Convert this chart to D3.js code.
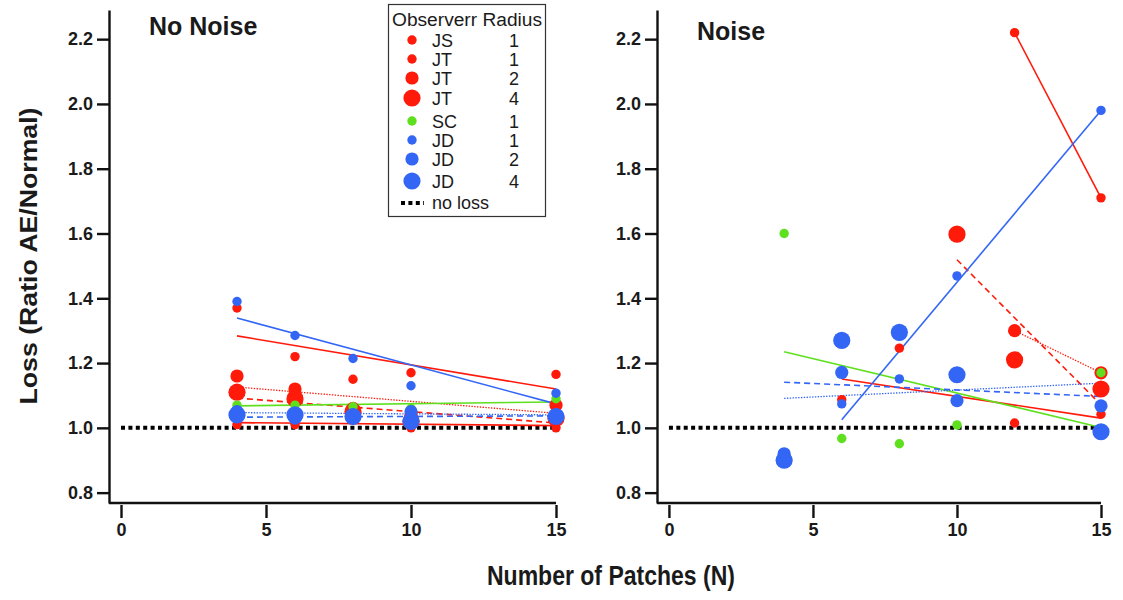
<!DOCTYPE html>
<html>
<head>
<meta charset="utf-8">
<script src="https://cdn.jsdelivr.net/npm/d3@7"></script>
<style>
  body { margin: 0; background: #fff; }
  text { font-family: "Liberation Sans", Arial, sans-serif; fill: #1a1a1a; }
</style>
</head>
<body>
<div id="chart"></div>
<script>
// series, in legend order
const observers = ["JS", "JT", "JT", "JT", "SC", "JD", "JD", "JD"];
const radii = [1, 1, 2, 4, 1, 1, 2, 4];

// No Noise panel
const xNoNoise = [4, 6, 8, 10, 15];
const yNoNoise = [
  [1.01, 1.01, 1.03, 1.00, 1.00],   // JS 1
  [1.37, 1.22, 1.15, 1.17, 1.165],  // JT 1
  [1.16, 1.12, 1.06, 1.04, 1.07],   // JT 2
  [1.11, 1.09, 1.05, 1.02, 1.03],   // JT 4
  [1.07, 1.07, 1.065, 1.06, 1.09],  // SC 1
  [1.39, 1.285, 1.214, 1.13, 1.107],// JD 1
  [1.05, 1.03, 1.04, 1.05, 1.04],   // JD 2
  [1.04, 1.04, 1.035, 1.02, 1.035]  // JD 4
];
// fitted line, value at first and last N of each series
const fitNoNoise = [
  [1.016, 1.007], [1.284, 1.12], [1.126, 1.045], [1.092, 1.015],
  [1.068, 1.08], [1.339, 1.074], [1.047, 1.04], [1.033, 1.037]
];

// Noise panel
const xNoise = [4, 6, 8, 10, 12, 15];
const yNoise = [
  [null, null, null, null, 2.22, 1.71],     // JS 1
  [null, 1.087, 1.246, null, 1.015, 1.042], // JT 1
  [null, null, null, null, 1.30, 1.17],     // JT 2
  [null, null, null, 1.598, 1.21, 1.12],    // JT 4
  [1.60, 0.967, 0.951, 1.009, null, 1.17],  // SC 1
  [null, 1.074, 1.151, 1.469, null, 1.98],  // JD 1
  [0.92, 1.171, 1.29, 1.084, null, 1.068],  // JD 2
  [0.90, 1.27, 1.295, 1.164, null, 0.988]   // JD 4
];
const fitNoise = [
  [2.22, 1.71], [1.151, 1.03], [1.30, 1.17], [1.519, 1.071],
  [1.235, 1.001], [1.025, 1.98], [1.091, 1.138], [1.141, 1.097]
];

const yTicks = [0.8, 1.0, 1.2, 1.4, 1.6, 1.8, 2.0, 2.2];
const xTicks = [0, 5, 10, 15];
const noLoss = 1.0;

const width = 1123, height = 600;

let svg = d3.select("#chart")
  .append("svg")
  .attr("width", width)
  .attr("height", height);

let y = d3.scaleLinear().domain([0.768, 2.29]).range([503, 10]);

let color = d3.scaleOrdinal()
  .domain(["JS", "JT", "SC", "JD"])
  .range(["#ff1a0a", "#ff1a0a", "#5fe01f", "#3366f5"]);
let dotR = d3.scaleOrdinal().domain([1, 2, 4]).range([4.7, 6.6, 8.6]);
let dash = d3.scaleOrdinal().domain([1, 2, 4]).range([null, "1.4,1.4", "6,4"]);
let lineW = d3.scaleOrdinal().domain([1, 2, 4]).range([1.6, 1.3, 1.6]);

const panels = [
  { title: "No Noise", tx: 149, ty: 35, range: [109, 556], xs: xNoNoise, ys: yNoNoise, fits: fitNoNoise },
  { title: "Noise", tx: 697, ty: 40, range: [657, 1101], xs: xNoise, ys: yNoise, fits: fitNoise }
];

panels.forEach(p => {
  let x = d3.scaleLinear().domain([-0.414, 15]).range(p.range);
  let g = svg.append("g");

  // y axis
  g.append("g")
    .attr("transform", `translate(${p.range[0]},0)`)
    .call(d3.axisLeft(y).tickValues(yTicks).tickFormat(d3.format(".1f")).tickSize(12).tickPadding(4).tickSizeOuter(0))
    .call(a => a.selectAll("path,line").attr("stroke", "#111").attr("stroke-width", 2.4))
    .call(a => a.selectAll("text").style("font-size", "18px").style("font-weight", "bold").attr("fill", "#1a1a1a"));

  // x axis, ticks hang just below the axis line
  g.append("line")
    .attr("x1", p.range[0]).attr("x2", x(15))
    .attr("y1", y.range()[0]).attr("y2", y.range()[0])
    .attr("stroke", "#111").attr("stroke-width", 2.4);
  g.append("g")
    .attr("transform", `translate(0,${y.range()[0] + 2})`)
    .call(d3.axisBottom(x).tickValues(xTicks).tickSize(13).tickPadding(5))
    .call(a => a.select(".domain").remove())
    .call(a => a.selectAll("line").attr("stroke", "#111").attr("stroke-width", 2.4))
    .call(a => a.selectAll("text").style("font-size", "18px").style("font-weight", "bold").attr("fill", "#1a1a1a"));

  g.append("text")
    .attr("x", p.tx).attr("y", p.ty)
    .style("font-size", "25px").style("font-weight", "bold")
    .text(p.title);

  // no loss reference
  g.append("line")
    .attr("x1", x(0)).attr("x2", x(15))
    .attr("y1", y(noLoss)).attr("y2", y(noLoss))
    .attr("stroke", "#000").attr("stroke-width", 4)
    .attr("stroke-dasharray", "4,3.4");

  // fitted lines
  observers.forEach((o, i) => {
    let pts = p.xs.map((xv, j) => ({ x: xv, v: p.ys[i][j] })).filter(d => d.v != null);
    let xa = d3.min(pts, d => d.x), xb = d3.max(pts, d => d.x);
    g.append("line")
      .attr("x1", x(xa)).attr("y1", y(p.fits[i][0]))
      .attr("x2", x(xb)).attr("y2", y(p.fits[i][1]))
      .attr("stroke", color(o))
      .attr("stroke-width", lineW(radii[i]))
      .attr("stroke-dasharray", dash(radii[i]));
  });

  // dots
  observers.forEach((o, i) => {
    let pts = p.xs.map((xv, j) => ({ x: xv, v: p.ys[i][j] })).filter(d => d.v != null);
    g.append("g").selectAll("circle")
      .data(pts)
      .enter()
      .append("circle")
      .attr("cx", d => x(d.x))
      .attr("cy", d => y(d.v))
      .attr("r", dotR(radii[i]))
      .attr("fill", color(o));
  });
});

// axis titles
svg.append("text")
  .attr("transform", `translate(${37}, ${256}) rotate(-90)`)
  .style("text-anchor", "middle")
  .style("font-size", "23px")
  .style("font-weight", "bold")
  .attr("textLength", 297)
  .attr("lengthAdjust", "spacingAndGlyphs")
  .text("Loss (Ratio AE/Normal)");

svg.append("text")
  .attr("x", 611).attr("y", 585)
  .style("text-anchor", "middle")
  .style("font-size", "27px")
  .style("font-weight", "bold")
  .attr("textLength", 248)
  .attr("lengthAdjust", "spacingAndGlyphs")
  .text("Number of Patches (N)");

// legend
let legend = svg.append("g");
legend.append("rect")
  .attr("x", 388.5).attr("y", 4.5)
  .attr("width", 157).attr("height", 212)
  .attr("fill", "#fff").attr("stroke", "#333").attr("stroke-width", 1.2);
legend.append("text")
  .attr("x", 392).attr("y", 26)
  .style("font-size", "18px")
  .attr("textLength", 150)
  .attr("lengthAdjust", "spacingAndGlyphs")
  .text("Observerr Radius");

const legendRows = [40, 59, 78, 98, 121, 140, 159, 181];
observers.forEach((o, i) => {
  legend.append("circle")
    .attr("cx", 412).attr("cy", legendRows[i])
    .attr("r", dotR(radii[i]))
    .attr("fill", color(o));
  legend.append("text")
    .attr("x", 432).attr("y", legendRows[i] + 7)
    .style("font-size", "18px")
    .text(o);
  legend.append("text")
    .attr("x", 514).attr("y", legendRows[i] + 7)
    .style("font-size", "18px")
    .style("text-anchor", "middle")
    .text(radii[i]);
});
legend.append("line")
  .attr("x1", 401).attr("x2", 424)
  .attr("y1", 203).attr("y2", 203)
  .attr("stroke", "#000").attr("stroke-width", 4)
  .attr("stroke-dasharray", "4,3.4");
legend.append("text")
  .attr("x", 432).attr("y", 209)
  .style("font-size", "18px")
  .text("no loss");
</script>
</body>
</html>
